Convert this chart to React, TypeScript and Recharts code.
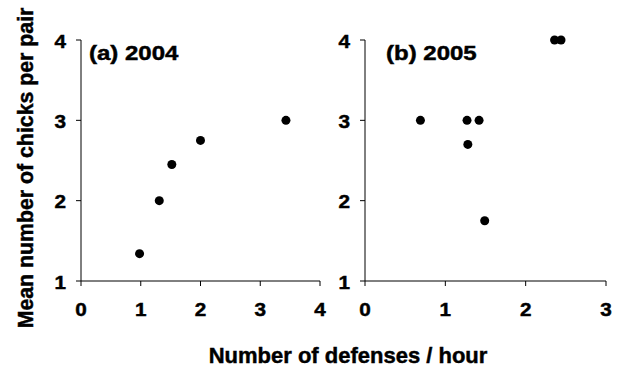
import React from 'react';
import { ScatterChart, Scatter, XAxis, YAxis } from 'recharts';

// panel (a) 2004
const defensesA = [0.98, 1.31, 1.52, 2.0, 3.43];
const chicksA = [1.34, 2.0, 2.45, 2.75, 3.0];
// panel (b) 2005
const defensesB = [0.69, 1.27, 1.42, 1.28, 1.49, 2.36, 2.44];
const chicksB = [3.0, 3.0, 3.0, 2.7, 1.75, 4.0, 4.0];

const xTicksA = [0, 1, 2, 3, 4];
const xTicksB = [0, 1, 2, 3];
const yTicks = [1, 2, 3, 4];

const titleA = '(a) 2004';
const titleB = '(b) 2005';
const xTitle = 'Number of defenses / hour';
const yTitle = 'Mean number of chicks per pair';

const FONT = '"Liberation Sans", Arial, sans-serif';
// slight outline so the bold text looks as heavy as in the scan
const heavy = { fontWeight: 700, fontFamily: FONT, stroke: '#000', strokeWidth: 0.45 };

const toPoints = (xs: number[], ys: number[]) => xs.map((x, i) => ({ x, y: ys[i] }));

const renderXTick = ({ x, y, payload }: any) => (
  <text
    key={`xt-${payload.value}`}
    transform={`translate(${x},${y}) scale(1.15,1)`}
    textAnchor="middle"
    dy="0.71em"
    style={{ fontSize: 18, ...heavy }}
    fill="#000"
  >
    {payload.value}
  </text>
);

const renderYTick = ({ x, y, payload }: any) => (
  <text
    key={`yt-${payload.value}`}
    transform={`translate(${x},${y}) scale(1.15,1)`}
    textAnchor="end"
    dy="0.42em"
    style={{ fontSize: 18, ...heavy }}
    fill="#000"
  >
    {payload.value}
  </text>
);

const Dot = (p: any) => <circle cx={p.cx} cy={p.cy} r={4.5} fill="#000" />;

interface PanelProps {
  data: { x: number; y: number }[];
  xTicks: number[];
  width: number;
  left: number;
  margin: { top: number; right: number; bottom: number; left: number };
}

const Panel: React.FC<PanelProps> = ({ data, xTicks, width, left, margin }) => (
  <div style={{ position: 'absolute', left, top: 0 }}>
    <ScatterChart width={width} height={374} margin={margin} style={{ overflow: 'visible' }}>
      <XAxis
        type="number"
        dataKey="x"
        domain={[xTicks[0], xTicks[xTicks.length - 1]]}
        ticks={xTicks}
        height={40}
        tickSize={5}
        tickMargin={17}
        axisLine={{ stroke: '#000' }}
        tickLine={{ stroke: '#000' }}
        tick={renderXTick}
      />
      <YAxis
        type="number"
        dataKey="y"
        domain={[1, 4]}
        ticks={yTicks}
        width={40}
        tickSize={5}
        tickMargin={10}
        axisLine={{ stroke: '#000' }}
        tickLine={{ stroke: '#000' }}
        tick={renderYTick}
      />
      <Scatter data={data} fill="#000" shape={Dot} isAnimationActive={false} />
    </ScatterChart>
  </div>
);

export default function App() {
  return (
    <div style={{ position: 'absolute', left: 0, top: 0, width: 620, height: 374, background: '#fff' }}>
      <Panel
        data={toPoints(defensesA, chicksA)}
        xTicks={xTicksA}
        width={330}
        left={0}
        margin={{ top: 40, right: 10, bottom: 53, left: 41 }}
      />
      <Panel
        data={toPoints(defensesB, chicksB)}
        xTicks={xTicksB}
        width={320}
        left={300}
        margin={{ top: 40, right: 14, bottom: 53, left: 25 }}
      />
      <svg width={620} height={374} style={{ position: 'absolute', left: 0, top: 0, pointerEvents: 'none' }}>
        <text transform="translate(89,60) scale(1.2,1)" style={{ fontSize: 20, ...heavy }} fill="#000">
          {titleA}
        </text>
        <text transform="translate(386,60) scale(1.2,1)" style={{ fontSize: 20, ...heavy }} fill="#000">
          {titleB}
        </text>
        <text x={348} y={363} textAnchor="middle" style={{ fontSize: 22, ...heavy }} fill="#000">
          {xTitle}
        </text>
        <text
          transform="translate(33,168) rotate(-90)"
          textAnchor="middle"
          style={{ fontSize: 21.3, ...heavy }}
          fill="#000"
        >
          {yTitle}
        </text>
      </svg>
    </div>
  );
}
